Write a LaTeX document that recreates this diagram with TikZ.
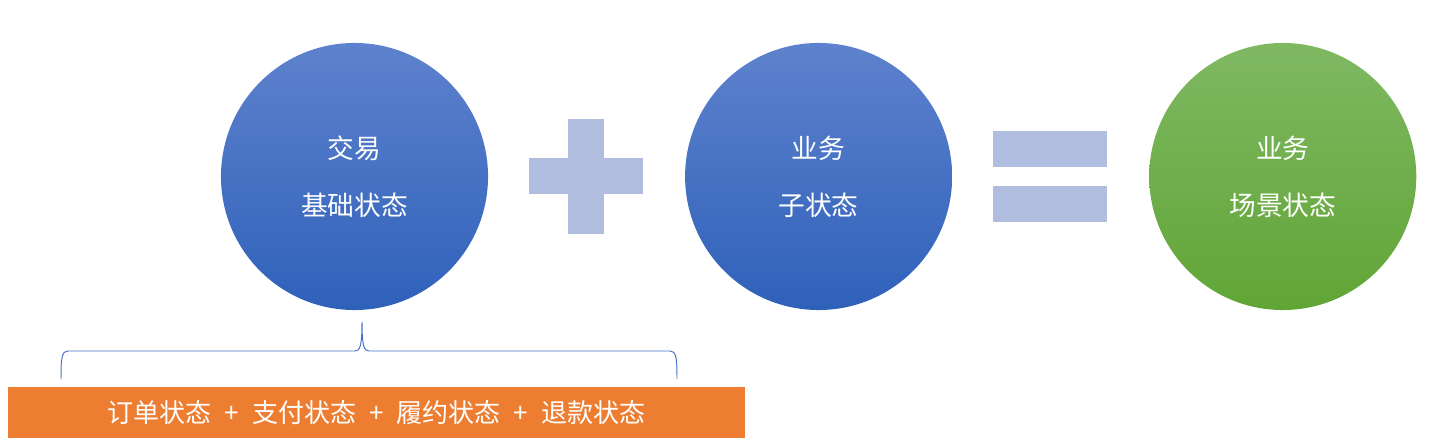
\documentclass[tikz,border=0pt]{standalone}
\usepackage{fontspec}
\setmainfont{Noto Sans CJK SC}
\usetikzlibrary{positioning}

\definecolor{bluetop}{RGB}{94,130,205}
\definecolor{bluebot}{RGB}{47,97,186}
\definecolor{greentop}{RGB}{127,184,98}
\definecolor{greenbot}{RGB}{97,165,54}
\definecolor{opcol}{RGB}{176,189,223}
\definecolor{orangebar}{RGB}{237,125,49}
\definecolor{bracecol}{RGB}{68,114,196}

\newcommand{\plussep}{\hspace{0.5em}+\hspace{0.5em}}

\tikzstyle{every node}+=[inner sep=0pt,outer sep=0pt,node distance=11.6cm,text=white]
\tikzstyle{statecircle}=[circle,minimum size=6.675cm,align=center,font=\fontsize{19pt}{40.5pt}\selectfont]
\tikzstyle{bluecircle}=[statecircle,top color=bluetop,bottom color=bluebot]
\tikzstyle{greencircle}=[statecircle,top color=greentop,bottom color=greenbot]
\tikzstyle{opbar}=[rectangle,fill=opcol]
\tikzstyle{detailbar}=[rectangle,fill=orangebar,minimum width=18.425cm,minimum height=1.275cm,font=\fontsize{18.5pt}{22pt}\selectfont]

\begin{document}
\begin{tikzpicture}[x=0.025cm,y=-0.025cm]
\useasboundingbox (0,0) rectangle (1440,444);

\node[bluecircle] (base) at (354.5,176.5) {交易\\基础状态};
\node[bluecircle, right of=base] (sub) {业务\\子状态};
\node[greencircle, right of=sub] (scene) {业务\\场景状态};

% plus
\node[opbar, minimum width=0.9cm, minimum height=2.85cm] (plusv) at (586,176.5) {};
\node[opbar, minimum width=2.825cm, minimum height=0.9cm] (plush) at (plusv) {};

% equals
\node[opbar, minimum width=2.85cm, minimum height=0.9cm] (equ) at (1050,149) {};
\node[opbar, minimum width=2.85cm, minimum height=0.9cm, below of=equ, node distance=1.3625cm] (eqd) {};

% brace
\coordinate (brl) at (61,379);
\coordinate (brr) at (677,379);
\coordinate (brtip) at (362,322);
\draw[bracecol, line width=0.7pt] (brl) .. controls (61,357) and (62,351) .. (68,351) -- (355,351)
  .. controls (360,351) and (362,346) .. (brtip)
  .. controls (362,346) and (364,351) .. (369,351) -- (670,351)
  .. controls (676,351) and (677,357) .. (brr);

\node[detailbar] (detail) at (376.5,412.5) {订单状态\plussep 支付状态\plussep 履约状态\plussep 退款状态};
\end{tikzpicture}
\end{document}
